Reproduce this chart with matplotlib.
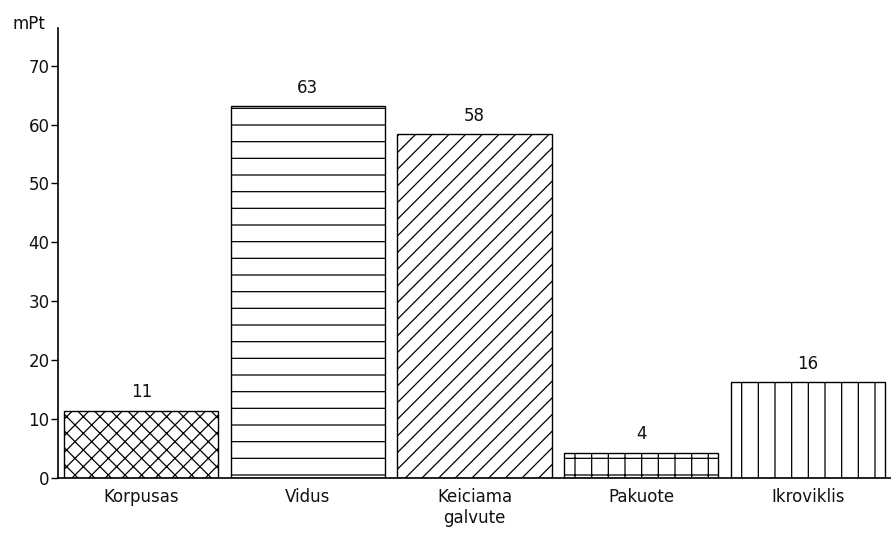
import matplotlib
matplotlib.use('Agg')
import matplotlib.pyplot as plt

categories = ['Korpusas', 'Vidus', 'Keiciama\ngalvute', 'Pakuote', 'Ikroviklis']
values = [11.4, 63.1, 58.4, 4.3, 16.3]
value_labels = ['11', '63', '58', '4', '16']
hatches = ['xx', '-', '//', '+', '|']
y_ticks = [0, 10, 20, 30, 40, 50, 60, 70]

plt.rcParams['font.family'] = ['DejaVu Sans']
plt.rcParams['hatch.linewidth'] = 0.9
plt.rcParams['hatch.color'] = 'black'

fig = plt.figure(figsize=(8.91, 5.35), dpi=100)
ax = fig.add_axes([58 / 891, 57 / 535, (891 - 58) / 891, (478 - 28) / 535])

x = list(range(len(categories)))
bars = ax.bar(x, values, width=0.925, color='white', edgecolor='black', linewidth=1.0)
for bar, h in zip(bars, hatches):
    bar.set_hatch(h)

for xi, v, lab in zip(x, values, value_labels):
    ax.text(xi, v + 1.6, lab, ha='center', va='bottom', fontsize=12, color='#111111')

ax.set_xlim(-0.5, 4.5)
ax.set_ylim(0, 76.4)
ax.set_yticks(y_ticks)
ax.set_yticklabels([str(t) for t in y_ticks], fontsize=12, color='#111111')
ax.set_xticks(x)
ax.set_xticklabels(categories, fontsize=12, linespacing=1.25, color='#111111')
ax.tick_params(axis='x', length=0, pad=7)
ax.tick_params(axis='y', length=5, width=1, pad=1)

ax.spines['top'].set_visible(False)
ax.spines['right'].set_visible(False)
ax.spines['left'].set_linewidth(1.2)
ax.spines['bottom'].set_linewidth(1.2)

fig.text(12 / 891, 1 - 24 / 535, 'mPt', ha='left', va='center', fontsize=12, color='#111111')

fig.savefig('out.png', dpi=100)
